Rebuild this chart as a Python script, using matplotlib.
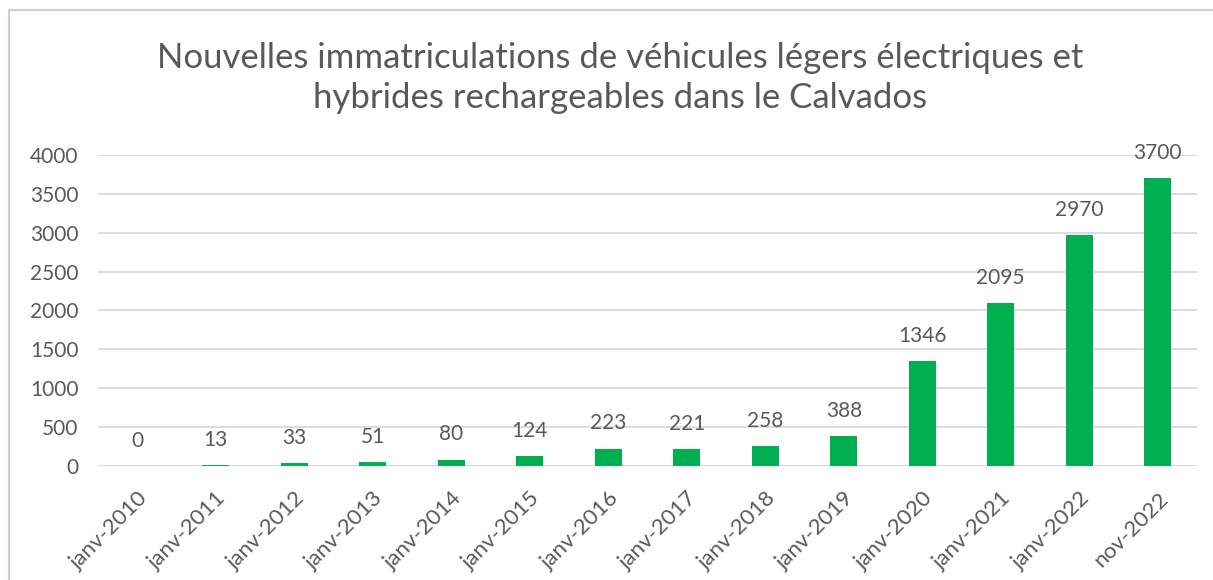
import matplotlib.pyplot as plt
from matplotlib.lines import Line2D

# Data
categories = ['janv-2010', 'janv-2011', 'janv-2012', 'janv-2013', 'janv-2014',
              'janv-2015', 'janv-2016', 'janv-2017', 'janv-2018', 'janv-2019',
              'janv-2020', 'janv-2021', 'janv-2022', 'nov-2022']
values = [0, 13, 33, 51, 80, 124, 223, 221, 258, 388, 1346, 2095, 2970, 3700]
title = ("Nouvelles immatriculations de véhicules légers électriques et\n"
         "hybrides rechargeables dans le Calvados")

plt.rcParams['font.family'] = ['Lato', 'DejaVu Sans']
grey = '#595959'
green = '#00B050'

fig = plt.figure(figsize=(12.13, 5.8), dpi=100)
ax = fig.add_axes([0.0808, 0.1966, 0.906, 0.5362])

x = range(len(categories))
ax.bar(x, values, width=0.35, color=green, zorder=3)

# data labels above bars
for xi, v in zip(x, values):
    ax.annotate(str(v), (xi, v), xytext=(0, 11), textcoords='offset points',
                ha='center', va='bottom', fontsize=15, color=grey)

ax.set_xlim(-0.5, len(categories) - 0.5)
ax.set_ylim(0, 4000)
ax.set_yticks(range(0, 4001, 500))
ax.yaxis.grid(True, color='#d9d9d9', linewidth=1.3, zorder=0)
ax.set_xticks(list(x))
ax.set_xticklabels(categories, rotation=45, ha='right', rotation_mode='anchor')
ax.tick_params(axis='both', length=0, colors=grey)
ax.tick_params(axis='x', pad=16, labelsize=16)
ax.tick_params(axis='y', pad=14, labelsize=15)
for s in ax.spines.values():
    s.set_visible(False)
ax.axhline(0, color='#d9d9d9', linewidth=1.3, zorder=2)

fig.text(0.511, 0.866, title, ha='center', va='center', fontsize=25,
         color=grey, linespacing=1.3)

# chart area border (left and top edges visible)
fig.add_artist(Line2D([9 / 1213, 9 / 1213, 1.0], [0.0, 1 - 10 / 580, 1 - 10 / 580],
                      transform=fig.transFigure, color='#d0d0d0', linewidth=1.5))

fig.savefig('out.png', dpi=100, facecolor='white')
